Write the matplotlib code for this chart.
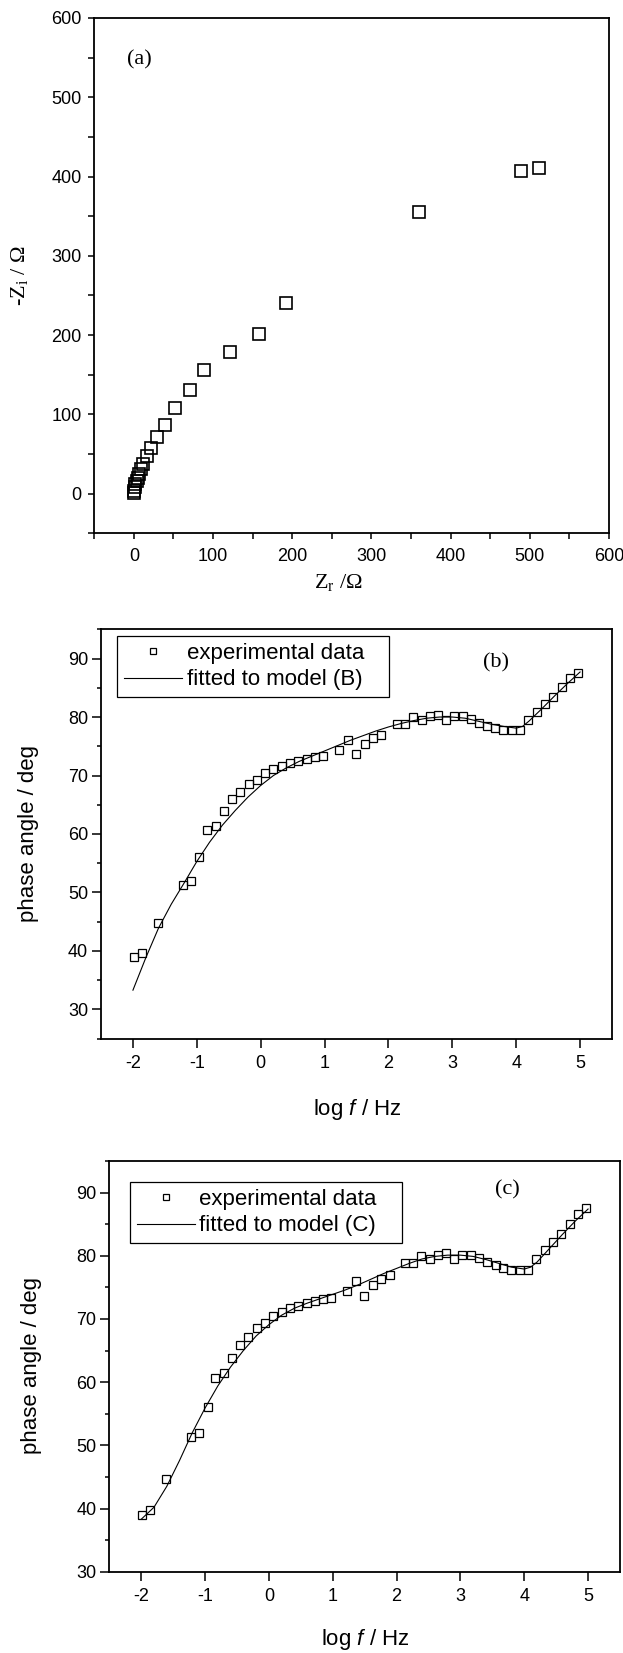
import matplotlib
matplotlib.use("Agg")
import matplotlib.pyplot as plt
from matplotlib.ticker import MultipleLocator

plt.rcParams['axes.unicode_minus'] = False
plt.rcParams['font.family'] = ['Liberation Sans', 'DejaVu Sans']
plt.rcParams['mathtext.fontset'] = 'custom'
plt.rcParams['mathtext.rm'] = 'Liberation Serif'
plt.rcParams['mathtext.it'] = 'Liberation Sans:italic'

# ---------------- data ----------------
# (a) Nyquist plot
z_real = [511, 489, 360, 192, 158, 121, 88, 71, 52, 39, 29, 22, 16, 12, 9,
          7, 5, 3.5, 2, 1, 0.3, 0]
z_imag = [411, 407, 355, 240, 202, 179, 156, 131, 108, 87, 72, 58, 47, 38, 31,
          25, 20, 16, 12, 8, 4, 1]

# (b), (c) experimental phase angle
log_f = [-1.99, -1.86, -1.61, -1.22, -1.09, -0.96, -0.84, -0.70, -0.58, -0.45,
         -0.32, -0.19, -0.06, 0.07, 0.20, 0.33, 0.46, 0.59, 0.72, 0.85,
         0.98, 1.23, 1.36, 1.49, 1.63, 1.76, 1.89, 2.13, 2.26, 2.39,
         2.52, 2.65, 2.77, 2.90, 3.03, 3.16, 3.29, 3.42, 3.55, 3.67,
         3.80, 3.93, 4.06, 4.19, 4.32, 4.45, 4.58, 4.71, 4.84, 4.97]
phase = [38.9, 39.7, 44.7, 51.3, 52.0, 56.0, 60.6, 61.4, 63.9, 65.9,
         67.2, 68.6, 69.3, 70.4, 71.1, 71.7, 72.1, 72.5, 72.8, 73.1,
         73.3, 74.4, 76.0, 73.7, 75.4, 76.4, 76.9, 78.8, 78.8, 80.0,
         79.5, 80.2, 80.4, 79.5, 80.1, 80.1, 79.6, 79.0, 78.5, 78.1,
         77.8, 77.8, 77.7, 79.5, 80.9, 82.2, 83.5, 85.1, 86.6, 87.5]

# fitted curve, model (B)
fit_b_logf = [-2.0, -1.8, -1.6, -1.4, -1.2, -1.0, -0.8, -0.6, -0.4, -0.2, 0.0,
              0.2, 0.4, 0.6, 0.8, 1.0, 1.2, 1.4, 1.6, 1.8, 2.0, 2.2, 2.4, 2.6,
              2.8, 3.0, 3.2, 3.4, 3.6, 3.8, 4.0, 4.1, 4.2, 4.4, 4.6, 4.8, 5.0]
fit_b_phase = [33.3, 38.8, 43.9, 48.0, 51.6, 55.3, 58.6, 61.5, 64.0, 66.3, 68.3,
               70.0, 71.3, 72.4, 73.3, 74.2, 75.1, 76.0, 76.8, 77.6, 78.3, 78.9,
               79.4, 79.8, 80.0, 80.0, 79.8, 79.3, 78.8, 78.4, 78.1, 78.4, 79.3,
               81.4, 83.6, 85.7, 87.7]

# fitted curve, model (C)
fit_c_logf = [-2.0, -1.8, -1.6, -1.4, -1.2, -1.0, -0.8, -0.6, -0.4, -0.2, 0.0,
              0.2, 0.4, 0.6, 0.8, 1.0, 1.2, 1.4, 1.6, 1.8, 2.0, 2.2, 2.4, 2.6,
              2.8, 3.0, 3.2, 3.4, 3.6, 3.8, 4.0, 4.1, 4.2, 4.4, 4.6, 4.8, 5.0]
fit_c_phase = [38.3, 40.2, 43.5, 47.6, 52.0, 55.9, 59.4, 62.4, 65.0, 67.3, 69.1,
               70.6, 71.7, 72.5, 73.2, 73.9, 74.6, 75.4, 76.3, 77.2, 78.0, 78.8,
               79.5, 79.9, 80.1, 80.1, 79.9, 79.4, 78.8, 78.2, 77.9, 78.2, 79.0,
               81.2, 83.4, 85.5, 87.4]

legend_labels_b = ['experimental data', 'fitted to model (B)']
legend_labels_c = ['experimental data', 'fitted to model (C)']

# ---------------- figure ----------------
W, H = 623, 1653
fig = plt.figure(figsize=(W / 100, H / 100), dpi=100)

SERIF = 'Liberation Serif'
SANS = 'Liberation Sans'


def add_axes_px(l, t, r, b):
    ax = fig.add_axes([l / W, 1 - b / H, (r - l) / W, (b - t) / H])
    ax._px = (l, t, r, b)
    return ax


def px2ax(ax, px, py):
    l, t, r, b = ax._px
    return (px - l) / (r - l), (b - py) / (b - t)


def style_axes(ax, maj_len, min_len, xpad, ypad):
    for s in ax.spines.values():
        s.set_linewidth(1.3)
    ax.tick_params(which='both', direction='out', top=False, right=False,
                   width=1.1, labelsize=13)
    ax.tick_params(which='major', length=maj_len)
    ax.tick_params(which='minor', length=min_len)
    ax.tick_params(axis='x', which='both', pad=xpad)
    ax.tick_params(axis='y', which='both', pad=ypad)


def place_labels(ax, xlab_px, ylab_px):
    ax.xaxis.set_label_coords(*px2ax(ax, *xlab_px))
    ax.yaxis.set_label_coords(*px2ax(ax, *ylab_px))
    ax.xaxis.label.set_va('center')
    ax.yaxis.label.set_va('center')


# ---- (a) ----
axa = add_axes_px(94.3, 17.9, 609, 533.4)
axa.plot(z_real, z_imag, linestyle='none', marker='s', markersize=8,
         markerfacecolor='none', markeredgecolor='black', markeredgewidth=1.2)
axa.set_xlim(-50, 600)
axa.set_ylim(-50, 600)
axa.xaxis.set_major_locator(MultipleLocator(100))
axa.xaxis.set_minor_locator(MultipleLocator(50))
axa.yaxis.set_major_locator(MultipleLocator(100))
axa.yaxis.set_minor_locator(MultipleLocator(50))
style_axes(axa, 4.3, 4.3, 6.5, 4.8)
axa.set_xlabel('Z$_\\mathrm{r}$ /\u03a9', fontsize=16, family=SERIF)
axa.set_ylabel('-Z$_\\mathrm{i}$ / \u03a9', fontsize=16, family=SERIF)
place_labels(axa, (338.8, 583), (20, 275.6))
axa.text(-9, 547, '(a)', fontsize=16, family=SERIF, ha='left', va='center')


def phase_panel(ax, fit_x, fit_y, ylo, labels, letter, letter_xy,
                leg_px, xlab_px, ylab_px):
    h1, = ax.plot(log_f, phase, linestyle='none', marker='s', markersize=6.4,
                  markerfacecolor='none', markeredgecolor='black',
                  markeredgewidth=0.9)
    h2, = ax.plot(fit_x, fit_y, color='black', linewidth=0.8)
    ax.set_xlim(-2.5, 5.5)
    ax.set_ylim(ylo, 95)
    ax.xaxis.set_major_locator(MultipleLocator(1))
    ax.yaxis.set_major_locator(MultipleLocator(10))
    ax.yaxis.set_minor_locator(MultipleLocator(5))
    style_axes(ax, 6.5, 3.2, 5.4, 2.7)
    ax.tick_params(axis='x', which='minor', bottom=False)
    ax.set_xlabel('log $f$ / Hz', fontsize=16, family=SANS)
    ax.set_ylabel('phase angle / deg', fontsize=16, family=SANS)
    place_labels(ax, xlab_px, ylab_px)
    ax.text(letter_xy[0], letter_xy[1], letter, fontsize=16, family=SERIF,
            ha='center', va='center')
    lx0, ly0 = px2ax(ax, leg_px[0], leg_px[1])
    lx1, _ = px2ax(ax, leg_px[2], leg_px[1])
    leg = ax.legend([h1, h2], labels, loc='upper left',
                    bbox_to_anchor=(lx0, ly0, lx1 - lx0, 0),
                    bbox_transform=ax.transAxes, mode='expand',
                    borderaxespad=0, borderpad=0.32, labelspacing=0.25,
                    handlelength=2.6, handletextpad=0.2, markerscale=0.75,
                    fontsize=16, fancybox=False, framealpha=1,
                    edgecolor='black')
    leg.get_frame().set_linewidth(0.9)
    return leg


axb = add_axes_px(101, 629.3, 612, 1038.7)
phase_panel(axb, fit_b_logf, fit_b_phase, 25, legend_labels_b, '(b)',
            (3.69, 89.2), (117.3, 635.7, 389.3), (357.5, 1110), (29, 834))

axc = add_axes_px(109.3, 1161, 620, 1571.7)
phase_panel(axc, fit_c_logf, fit_c_phase, 30, legend_labels_c, '(c)',
            (3.73, 90.4), (130, 1181.7, 402), (365, 1639), (32, 1366))

fig.savefig('out.png', dpi=100)
